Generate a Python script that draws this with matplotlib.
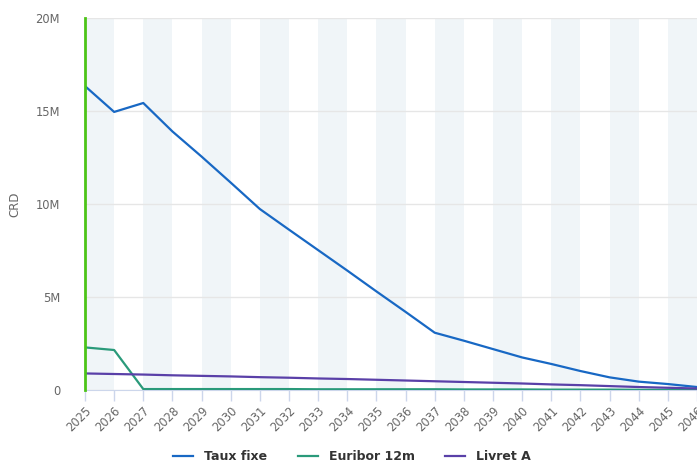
import numpy as np
import matplotlib.pyplot as plt
from matplotlib.ticker import FuncFormatter

# données (CRD en millions)
years = list(range(2025, 2047))
taux_fixe = [16.34, 14.95, 15.43, 13.90, 12.55, 11.15, 9.73, 8.62, 7.52, 6.42, 5.30, 4.20,
             3.08, 2.65, 2.20, 1.75, 1.40, 1.02, 0.68, 0.45, 0.32, 0.16]
euribor = [2.29, 2.15, 0.05, 0.05, 0.05, 0.05, 0.05, 0.05, 0.04, 0.04, 0.04, 0.04,
           0.04, 0.03, 0.03, 0.03, 0.02, 0.02, 0.02, 0.01, 0.01, 0.0]
livret_a = [0.89, 0.86, 0.83, 0.79, 0.76, 0.73, 0.69, 0.66, 0.62, 0.59, 0.55, 0.51,
            0.47, 0.43, 0.39, 0.35, 0.30, 0.26, 0.21, 0.16, 0.12, 0.08]
y_ticks = [0, 5, 10, 15, 20]

fig = plt.figure(figsize=(6.97, 4.63), dpi=100)
ax = fig.add_axes([85 / 697, 1 - 390 / 463, 1 - 85 / 697, (390 - 18) / 463])

# bandes alternées
for y0 in years[:-1:2]:
    ax.axvspan(y0, y0 + 1, color='#f0f5f8', lw=0, zorder=0)

for t in y_ticks:
    ax.axhline(t, color='#e6e6e6', lw=1, zorder=1)

# ligne verticale (année courante)
ax.axvline(2025, color='#4cc417', lw=2, zorder=5, clip_on=False)

ax.plot(years, taux_fixe, color='#1868c4', lw=1.6, label='Taux fixe', zorder=4)
ax.plot(years, euribor, color='#2a9a7a', lw=1.6, label='Euribor 12m', zorder=4)
ax.plot(years, livret_a, color='#5a40a8', lw=1.6, label='Livret A', zorder=4)

ax.set_xlim(2025, 2046)
ax.set_ylim(0, 20)
ax.set_yticks(y_ticks)
ax.yaxis.set_major_formatter(FuncFormatter(lambda v, p: '0' if v == 0 else f'{int(v)}M'))
ax.set_xticks(years)
ax.set_xticklabels([str(y) for y in years], rotation=45, ha='right', rotation_mode='anchor')

for s in ['top', 'right', 'left']:
    ax.spines[s].set_visible(False)
ax.spines['bottom'].set_color('#ccd6eb')
ax.tick_params(axis='x', colors='#ccd6eb', length=8, width=1, labelcolor='#666666',
               labelsize=8.3, pad=2)
ax.tick_params(axis='y', length=0, labelcolor='#666666', labelsize=8.3, pad=18)
ax.set_ylabel('CRD', color='#666666', fontsize=8.5, labelpad=10)

leg = fig.legend(loc='lower center', bbox_to_anchor=(0.505, -0.025), ncol=3, frameon=False,
                 prop={'weight': 'bold', 'size': 9}, handlelength=1.6, handletextpad=0.9,
                 columnspacing=2.4)
for txt in leg.get_texts():
    txt.set_color('#333333')

fig.savefig('out.png', dpi=100)
